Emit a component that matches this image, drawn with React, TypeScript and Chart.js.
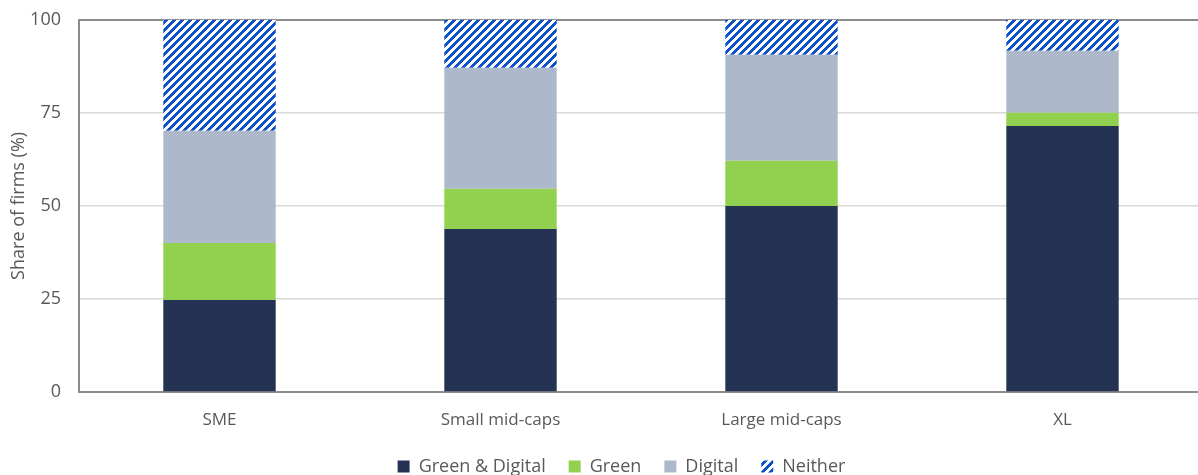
import React, { useEffect, useRef } from "react";
import { Chart, registerables } from "chart.js";

Chart.register(...registerables);

const categories = ["SME", "Small mid-caps", "Large mid-caps", "XL"];
const greenDigital = [24.7, 43.8, 50.0, 71.5];
const green = [15.3, 10.8, 12.1, 3.5];
const digital = [30.2, 32.5, 28.5, 16.7];
const neither = [29.8, 12.9, 9.4, 8.3];
const yTicks = [0, 25, 50, 75, 100];

function makePattern(): CanvasPattern | string {
  const c = document.createElement("canvas");
  c.width = 8;
  c.height = 8;
  const ctx = c.getContext("2d");
  if (!ctx) return "#0c4fcf";
  ctx.fillStyle = "#ffffff";
  ctx.fillRect(0, 0, 8, 8);
  ctx.fillStyle = "#0c50cc";
  for (let x = 0; x < 8; x++) {
    for (let y = 0; y < 8; y++) {
      if ((x + y) % 8 < 4) ctx.fillRect(x, y, 1, 1);
    }
  }
  const p = ctx.createPattern(c, "repeat");
  return p || "#0c4fcf";
}

const LEGEND_PAD = 23;
const EXTRA = 40;

const legendShift = {
  id: "legendShift",
  afterLayout(chart: any) {
    const lg = chart.legend;
    if (lg) {
      lg.left += 20;
      lg.right += 20;
      const want = 460 - (lg.top + lg.height / 2);
      lg.top += want;
      lg.bottom += want;
    }
  },
};

export default function App() {
  const ref = useRef<HTMLCanvasElement>(null);
  useEffect(() => {
    document.body.style.margin = "0";
    document.body.style.overflow = "hidden";
    if (!ref.current) return;
    const font = "'Open Sans', 'Noto Sans', sans-serif";
    const chart = new Chart(ref.current, {
      type: "bar",
      data: {
        labels: categories,
        datasets: [
          { label: "Green & Digital", data: greenDigital, backgroundColor: "#243353" },
          { label: "Green", data: green, backgroundColor: "#92d050" },
          { label: "Digital", data: digital, backgroundColor: "#adb9ca" },
          { label: "Neither", data: neither, backgroundColor: makePattern() as any },
        ],
      },
      plugins: [legendShift],
      options: {
        animation: false,
        responsive: false,
        maintainAspectRatio: false,
        events: [],
        datasets: { bar: { categoryPercentage: 1, barPercentage: 0.4 } },
        layout: { padding: { top: 0, right: 0, left: 0, bottom: -EXTRA } },
        plugins: {
          tooltip: { enabled: false },
          legend: {
            position: "bottom",
            labels: {
              boxWidth: 12,
              boxHeight: 12,
              padding: LEGEND_PAD,
              color: "#595959",
              font: { family: font, size: 18 },
            },
          },
        },
        scales: {
          x: {
            stacked: true,
            grid: { display: false },
            border: { color: "#8c8c8c", width: 2 },
            ticks: { color: "#595959", font: { family: font, size: 17 }, padding: 10 },
            afterFit: (axis: any) => {
              const lg = axis.chart.legend;
              const lh = lg ? lg.height : 0;
              axis.height = 475 + EXTRA - 392 - lh;
            },
          },
          y: {
            stacked: true,
            min: 0,
            max: 100,
            afterBuildTicks: (axis: any) => {
              axis.ticks = yTicks.map((v) => ({ value: v }));
            },
            afterFit: (axis: any) => {
              axis.width = 79;
            },
            grid: {
              color: (ctx: any) => (ctx.tick && ctx.tick.value === 100 ? "#8c8c8c" : "#d9d9d9"),
              lineWidth: (ctx: any) => (ctx.tick && ctx.tick.value === 100 ? 2 : 1.5),
              drawTicks: false,
            },
            border: { color: "#8c8c8c", width: 2 },
            ticks: { color: "#595959", font: { family: font, size: 18, lineHeight: 0.2 }, padding: 18 },
            title: {
              display: true,
              text: "Share of firms (%)",
              color: "#595959",
              font: { family: font, size: 18 },
              padding: { top: 8, bottom: 0 },
            },
          },
        },
      },
    });
    return () => chart.destroy();
  }, []);
  return (
    <div style={{ position: "absolute", left: 0, top: 0, width: 1198, height: 475, overflow: "hidden" }}>
      <canvas ref={ref} width={1203} height={475} style={{ width: 1203, height: 475 }} />
    </div>
  );
}
